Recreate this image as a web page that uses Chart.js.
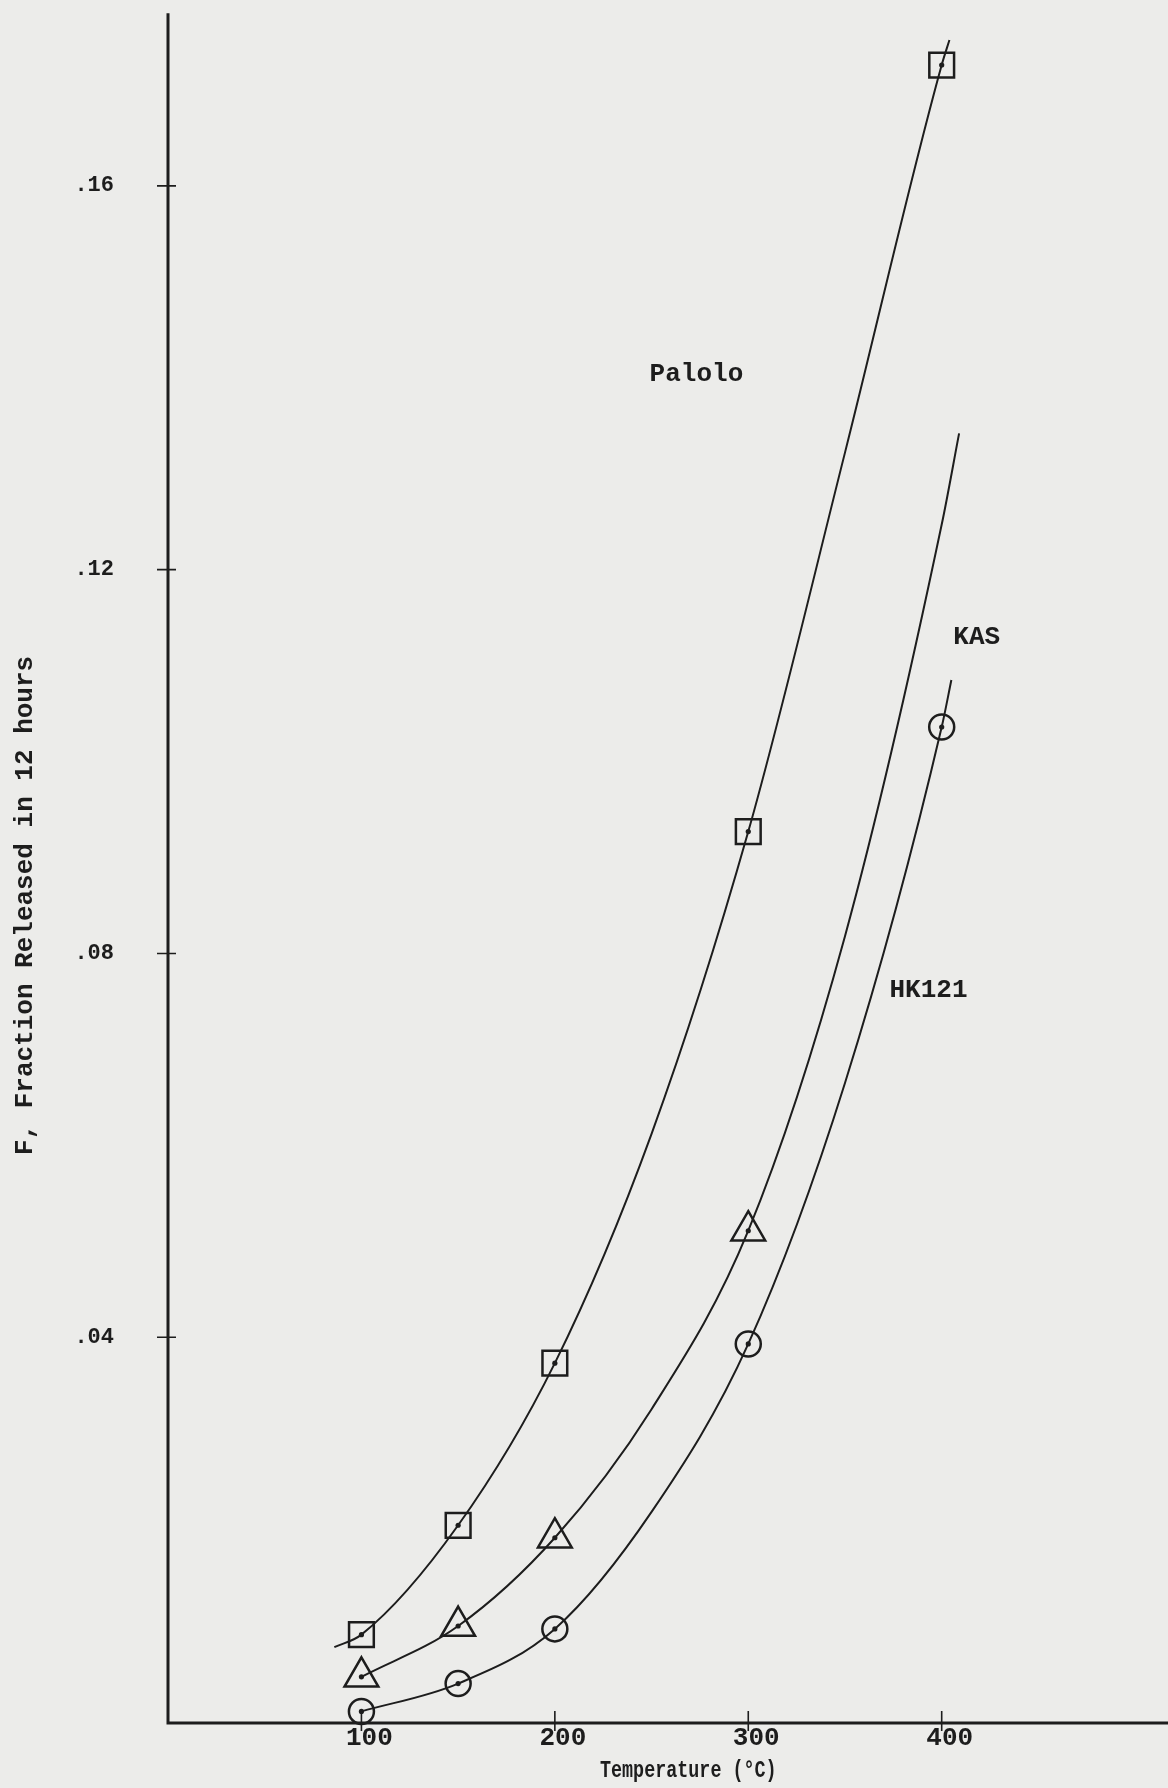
<!DOCTYPE html>
<html>
<head>
<meta charset="utf-8">
<title>Fraction released vs temperature</title>
<script src="https://cdn.jsdelivr.net/npm/chart.js@4.4.1/dist/chart.umd.min.js"></script>
<style>
  html, body { margin: 0; padding: 0; background: #ececea; }
  #wrap { width: 1168px; height: 1788px; }
</style>
</head>
<body>
<div id="wrap"><canvas id="chart" width="1168" height="1788"></canvas></div>
<script>
// measured points: temperature (deg C) vs F, fraction released in 12 hours
const temps = [100, 150, 200, 300, 400];
const kasTemps = [100, 150, 200, 300];
const paloloF = [0.0090, 0.0204, 0.0373, 0.0927, 0.1726];
const kasF = [0.0046, 0.0099, 0.0191, 0.0511];
const hk121F = [0.0010, 0.0039, 0.0096, 0.0393, 0.1036];

// hand drawn curves
const paloloCurveT = [86, 100, 150, 200, 250, 300, 350, 400, 404];
const paloloCurveF = [0.0077, 0.0090, 0.0204, 0.0373, 0.0612, 0.0927, 0.1322, 0.1726, 0.1752];
const kasCurveT = [100, 150, 200, 250, 300, 350, 400, 409];
const kasCurveF = [0.0046, 0.0099, 0.0191, 0.0325, 0.0511, 0.0818, 0.1247, 0.1342];
const hk121CurveT = [100, 150, 200, 250, 300, 350, 400, 405];
const hk121CurveF = [0.0010, 0.0039, 0.0096, 0.0218, 0.0393, 0.0665, 0.1036, 0.1085];

const xTicks = [100, 200, 300, 400];
const yTicks = [0.04, 0.08, 0.12, 0.16];

const ink = '#1d1d1d';
const mono = '"Liberation Mono", "DejaVu Sans Mono", monospace';

function pts(xs, ys) {
    return xs.map((x, i) => ({ x: x, y: ys[i] }));
}

function curve(label, xs, ys) {
    return {
        label: label,
        data: pts(xs, ys),
        showLine: true,
        borderColor: ink,
        borderWidth: 2,
        pointRadius: 0,
        cubicInterpolationMode: 'monotone',
        clip: false
    };
}

function markers(label, xs, ys, style, radius) {
    return {
        label: label,
        data: pts(xs, ys),
        showLine: false,
        pointStyle: style,
        pointRadius: radius,
        pointBorderWidth: 2.5,
        pointBorderColor: ink,
        pointBackgroundColor: 'rgba(0,0,0,0)',
        clip: false
    };
}

function dots(label, xs, ys) {
    return {
        label: label,
        data: pts(xs, ys),
        showLine: false,
        pointStyle: 'circle',
        pointRadius: 2.6,
        pointBorderWidth: 0,
        pointBackgroundColor: ink,
        clip: false
    };
}

// curve names written beside the lines, anchored in data units
const curveNames = [
    { text: 'Palolo', t: 249, f: 0.1403 },
    { text: 'KAS', t: 406, f: 0.1129 },
    { text: 'HK121', t: 373, f: 0.0761 }
];

const paperAxes = {
    id: 'paperAxes',
    afterDraw(chart) {
        const ctx = chart.ctx;
        const area = chart.chartArea;
        const xs = chart.scales.x;
        const ys = chart.scales.y;
        const axisY = area.bottom + 2;
        ctx.save();
        ctx.strokeStyle = ink;
        ctx.lineCap = 'butt';

        // axis lines
        ctx.lineWidth = 3;
        ctx.beginPath();
        ctx.moveTo(area.left, area.top);
        ctx.lineTo(area.left, axisY + 1.5);
        ctx.moveTo(area.left - 1.5, axisY);
        ctx.lineTo(area.right, axisY);
        ctx.stroke();

        // tick marks crossing the axes
        ctx.lineWidth = 1.6;
        ctx.beginPath();
        yTicks.forEach(v => {
            const py = ys.getPixelForValue(v);
            ctx.moveTo(area.left - 11, py);
            ctx.lineTo(area.left + 8, py);
        });
        xTicks.forEach(v => {
            const px = xs.getPixelForValue(v);
            ctx.moveTo(px, axisY - 12);
            ctx.lineTo(px, axisY + 8);
        });
        ctx.stroke();

        // curve names
        ctx.fillStyle = ink;
        ctx.font = 'bold 26px ' + mono;
        ctx.textAlign = 'left';
        ctx.textBaseline = 'middle';
        curveNames.forEach(n => {
            ctx.fillText(n.text, xs.getPixelForValue(n.t), ys.getPixelForValue(n.f));
        });

        // y axis title
        ctx.save();
        ctx.translate(25, ys.getPixelForValue(0.085));
        ctx.rotate(-Math.PI / 2);
        ctx.textAlign = 'center';
        ctx.font = 'bold 26px ' + mono;
        ctx.fillText('F, Fraction Released in 12 hours', 0, 0);
        ctx.restore();

        // x axis title (narrow typewriter face)
        ctx.save();
        ctx.translate(xs.getPixelForValue(269), 1771);
        ctx.scale(0.8, 1);
        ctx.textAlign = 'center';
        ctx.font = 'bold 23px ' + mono;
        ctx.fillText('Temperature (\u00B0C)', 0, 0);
        ctx.restore();

        ctx.restore();
    }
};

const chart = new Chart(document.getElementById('chart'), {
    type: 'scatter',
    data: {
        datasets: [
            curve('Palolo curve', paloloCurveT, paloloCurveF),
            curve('KAS curve', kasCurveT, kasCurveF),
            curve('HK121 curve', hk121CurveT, hk121CurveF),
            markers('Palolo', temps, paloloF, 'rect', 17.5),
            markers('KAS', kasTemps, kasF, 'triangle', 19.5),
            markers('HK121', temps, hk121F, 'circle', 12.5),
            dots('Palolo centre', temps, paloloF),
            dots('KAS centre', kasTemps, kasF),
            dots('HK121 centre', temps, hk121F)
        ]
    },
    options: {
        responsive: false,
        animation: false,
        layout: { autoPadding: false, padding: { top: 11, right: 0, bottom: 0, left: 0 } },
        plugins: {
            legend: { display: false },
            tooltip: { enabled: false }
        },
        scales: {
            x: {
                type: 'linear',
                min: 0,
                max: 517,
                afterFit: s => { s.height = 67; },
                afterBuildTicks: s => { s.ticks = xTicks.map(v => ({ value: v })); },
                grid: { display: false, drawTicks: false },
                border: { display: false },
                ticks: {
                    autoSkip: false,
                    maxRotation: 0,
                    padding: 2,
                    labelOffset: 8,
                    color: ink,
                    font: { family: mono, size: 26, weight: 'bold' },
                    callback: v => String(v)
                }
            },
            y: {
                type: 'linear',
                min: 0,
                max: 0.178,
                afterFit: s => { s.width = 168; },
                afterBuildTicks: s => { s.ticks = yTicks.map(v => ({ value: v })); },
                // the gap to the labels comes from an invisible tick length,
                // tick padding would also pad the top of the chart area
                grid: { display: false, drawTicks: true, tickLength: 54 },
                border: { display: false },
                ticks: {
                    padding: 0,
                    color: ink,
                    font: { family: mono, size: 22, weight: 'bold' },
                    callback: v => v.toFixed(2).replace(/^0/, '')
                }
            }
        }
    },
    plugins: [paperAxes]
});
</script>
</body>
</html>
